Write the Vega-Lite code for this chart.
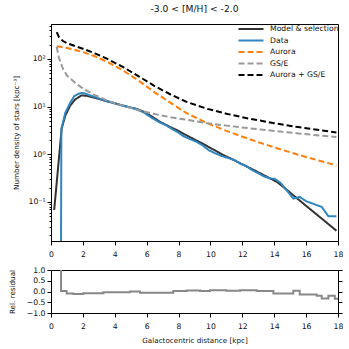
{
  "$schema": "https://vega.github.io/schema/vega-lite/v6.json",
  "padding": {"left": 7, "top": 4, "right": 5, "bottom": 2},
  "spacing": 6,
  "config": {
    "font": "DejaVu Sans",
    "view": {"stroke": "#000", "strokeWidth": 1},
    "axis": {"grid": false, "domainColor": "#000", "tickColor": "#000", "labelColor": "#111", "titleColor": "#111", "labelFontSize": 7.7, "titleFontSize": 7.2, "titleFontWeight": "normal", "tickSize": 4, "labelPadding": 2, "labelFlush": false, "labelOverlap": false},
    "axisX": {"labelPadding": 5}
  },
  "datasets": {
    "curves": [
      {"x": 0.2, "y": 0.068, "s": "Model & selection"},
      {"x": 0.67, "y": 3.5, "s": "Model & selection"},
      {"x": 0.9, "y": 6.5, "s": "Model & selection"},
      {"x": 1.2, "y": 10.5, "s": "Model & selection"},
      {"x": 1.5, "y": 14.0, "s": "Model & selection"},
      {"x": 1.9, "y": 17.2, "s": "Model & selection"},
      {"x": 2.3, "y": 16.8, "s": "Model & selection"},
      {"x": 2.8, "y": 15.2, "s": "Model & selection"},
      {"x": 3.3, "y": 13.6, "s": "Model & selection"},
      {"x": 3.8, "y": 12.3, "s": "Model & selection"},
      {"x": 4.3, "y": 11.0, "s": "Model & selection"},
      {"x": 4.85, "y": 9.8, "s": "Model & selection"},
      {"x": 5.4, "y": 8.9, "s": "Model & selection"},
      {"x": 5.9, "y": 7.6, "s": "Model & selection"},
      {"x": 6.4, "y": 6.0, "s": "Model & selection"},
      {"x": 6.84, "y": 4.8, "s": "Model & selection"},
      {"x": 7.4, "y": 3.85, "s": "Model & selection"},
      {"x": 8.0, "y": 3.1, "s": "Model & selection"},
      {"x": 8.5, "y": 2.5, "s": "Model & selection"},
      {"x": 9.0, "y": 2.05, "s": "Model & selection"},
      {"x": 9.6, "y": 1.62, "s": "Model & selection"},
      {"x": 10.2, "y": 1.25, "s": "Model & selection"},
      {"x": 10.8, "y": 0.97, "s": "Model & selection"},
      {"x": 11.4, "y": 0.78, "s": "Model & selection"},
      {"x": 11.9, "y": 0.64, "s": "Model & selection"},
      {"x": 12.5, "y": 0.51, "s": "Model & selection"},
      {"x": 13.0, "y": 0.42, "s": "Model & selection"},
      {"x": 13.6, "y": 0.33, "s": "Model & selection"},
      {"x": 14.2, "y": 0.26, "s": "Model & selection"},
      {"x": 14.8, "y": 0.178, "s": "Model & selection"},
      {"x": 15.4, "y": 0.122, "s": "Model & selection"},
      {"x": 16.0, "y": 0.083, "s": "Model & selection"},
      {"x": 16.6, "y": 0.057, "s": "Model & selection"},
      {"x": 17.2, "y": 0.039, "s": "Model & selection"},
      {"x": 17.9, "y": 0.025, "s": "Model & selection"},

      {"x": 0.62, "y": 0.001, "s": "Data"},
      {"x": 0.65, "y": 3.4, "s": "Data"},
      {"x": 0.9, "y": 7.5, "s": "Data"},
      {"x": 1.2, "y": 12, "s": "Data"},
      {"x": 1.45, "y": 16.5, "s": "Data"},
      {"x": 1.7, "y": 18.5, "s": "Data"},
      {"x": 1.95, "y": 19.4, "s": "Data"},
      {"x": 2.2, "y": 18.5, "s": "Data"},
      {"x": 2.5, "y": 17, "s": "Data"},
      {"x": 2.8, "y": 15.8, "s": "Data"},
      {"x": 3.2, "y": 14, "s": "Data"},
      {"x": 3.6, "y": 12.8, "s": "Data"},
      {"x": 4.0, "y": 11.8, "s": "Data"},
      {"x": 4.4, "y": 10.7, "s": "Data"},
      {"x": 4.85, "y": 9.9, "s": "Data"},
      {"x": 5.3, "y": 9.0, "s": "Data"},
      {"x": 5.8, "y": 7.6, "s": "Data"},
      {"x": 6.3, "y": 5.9, "s": "Data"},
      {"x": 6.8, "y": 4.7, "s": "Data"},
      {"x": 7.2, "y": 4.1, "s": "Data"},
      {"x": 7.6, "y": 3.4, "s": "Data"},
      {"x": 8.0, "y": 2.85, "s": "Data"},
      {"x": 8.3, "y": 2.4, "s": "Data"},
      {"x": 8.7, "y": 2.1, "s": "Data"},
      {"x": 9.1, "y": 1.85, "s": "Data"},
      {"x": 9.5, "y": 1.55, "s": "Data"},
      {"x": 9.9, "y": 1.22, "s": "Data"},
      {"x": 10.3, "y": 1.05, "s": "Data"},
      {"x": 10.7, "y": 0.92, "s": "Data"},
      {"x": 11.1, "y": 0.84, "s": "Data"},
      {"x": 11.5, "y": 0.76, "s": "Data"},
      {"x": 11.9, "y": 0.63, "s": "Data"},
      {"x": 12.2, "y": 0.58, "s": "Data"},
      {"x": 12.6, "y": 0.47, "s": "Data"},
      {"x": 13.0, "y": 0.40, "s": "Data"},
      {"x": 13.4, "y": 0.34, "s": "Data"},
      {"x": 13.8, "y": 0.31, "s": "Data"},
      {"x": 14.05, "y": 0.305, "s": "Data"},
      {"x": 14.4, "y": 0.25, "s": "Data"},
      {"x": 14.7, "y": 0.19, "s": "Data"},
      {"x": 15.2, "y": 0.118, "s": "Data"},
      {"x": 15.6, "y": 0.128, "s": "Data"},
      {"x": 16.0, "y": 0.104, "s": "Data"},
      {"x": 16.55, "y": 0.089, "s": "Data"},
      {"x": 16.98, "y": 0.079, "s": "Data"},
      {"x": 17.4, "y": 0.05, "s": "Data"},
      {"x": 17.9, "y": 0.05, "s": "Data"},

      {"x": 0.36, "y": 185, "s": "Aurora"},
      {"x": 0.5, "y": 182, "s": "Aurora"},
      {"x": 0.75, "y": 176, "s": "Aurora"},
      {"x": 1.0, "y": 170, "s": "Aurora"},
      {"x": 1.5, "y": 155, "s": "Aurora"},
      {"x": 2.0, "y": 140, "s": "Aurora"},
      {"x": 2.75, "y": 114, "s": "Aurora"},
      {"x": 3.5, "y": 88, "s": "Aurora"},
      {"x": 4.5, "y": 58, "s": "Aurora"},
      {"x": 5.5, "y": 35, "s": "Aurora"},
      {"x": 6.5, "y": 20, "s": "Aurora"},
      {"x": 7.5, "y": 12, "s": "Aurora"},
      {"x": 8.5, "y": 7.3, "s": "Aurora"},
      {"x": 9.8, "y": 4.5, "s": "Aurora"},
      {"x": 11.0, "y": 3.1, "s": "Aurora"},
      {"x": 12.5, "y": 2.05, "s": "Aurora"},
      {"x": 14.0, "y": 1.4, "s": "Aurora"},
      {"x": 15.5, "y": 0.98, "s": "Aurora"},
      {"x": 17.0, "y": 0.71, "s": "Aurora"},
      {"x": 17.9, "y": 0.58, "s": "Aurora"},

      {"x": 0.36, "y": 180, "s": "GS/E"},
      {"x": 0.5, "y": 105, "s": "GS/E"},
      {"x": 0.75, "y": 62, "s": "GS/E"},
      {"x": 1.0, "y": 45, "s": "GS/E"},
      {"x": 1.5, "y": 32, "s": "GS/E"},
      {"x": 2.0, "y": 24, "s": "GS/E"},
      {"x": 2.75, "y": 17.5, "s": "GS/E"},
      {"x": 3.5, "y": 13.5, "s": "GS/E"},
      {"x": 4.5, "y": 10.5, "s": "GS/E"},
      {"x": 5.5, "y": 8.4, "s": "GS/E"},
      {"x": 6.5, "y": 7.0, "s": "GS/E"},
      {"x": 7.5, "y": 6.0, "s": "GS/E"},
      {"x": 8.5, "y": 5.3, "s": "GS/E"},
      {"x": 9.8, "y": 4.5, "s": "GS/E"},
      {"x": 11.0, "y": 4.0, "s": "GS/E"},
      {"x": 12.5, "y": 3.5, "s": "GS/E"},
      {"x": 14.0, "y": 3.1, "s": "GS/E"},
      {"x": 15.5, "y": 2.75, "s": "GS/E"},
      {"x": 17.0, "y": 2.45, "s": "GS/E"},
      {"x": 17.9, "y": 2.3, "s": "GS/E"},

      {"x": 0.36, "y": 365, "s": "Aurora + GS/E"},
      {"x": 0.5, "y": 287, "s": "Aurora + GS/E"},
      {"x": 0.75, "y": 238, "s": "Aurora + GS/E"},
      {"x": 1.0, "y": 215, "s": "Aurora + GS/E"},
      {"x": 1.5, "y": 187, "s": "Aurora + GS/E"},
      {"x": 2.0, "y": 164, "s": "Aurora + GS/E"},
      {"x": 2.75, "y": 131.5, "s": "Aurora + GS/E"},
      {"x": 3.5, "y": 101.5, "s": "Aurora + GS/E"},
      {"x": 4.5, "y": 68.5, "s": "Aurora + GS/E"},
      {"x": 5.5, "y": 43.4, "s": "Aurora + GS/E"},
      {"x": 6.5, "y": 27, "s": "Aurora + GS/E"},
      {"x": 7.5, "y": 18, "s": "Aurora + GS/E"},
      {"x": 8.5, "y": 12.6, "s": "Aurora + GS/E"},
      {"x": 9.8, "y": 9.0, "s": "Aurora + GS/E"},
      {"x": 11.0, "y": 7.1, "s": "Aurora + GS/E"},
      {"x": 12.5, "y": 5.55, "s": "Aurora + GS/E"},
      {"x": 14.0, "y": 4.5, "s": "Aurora + GS/E"},
      {"x": 15.5, "y": 3.73, "s": "Aurora + GS/E"},
      {"x": 17.0, "y": 3.16, "s": "Aurora + GS/E"},
      {"x": 17.9, "y": 2.88, "s": "Aurora + GS/E"}
    ],
    "resid": [
      {"x": 0.45, "r": 5},
      {"x": 0.63, "r": 0.02},
      {"x": 0.98, "r": -0.09},
      {"x": 1.4, "r": -0.12},
      {"x": 2.03, "r": -0.08},
      {"x": 3.28, "r": -0.03},
      {"x": 4.96, "r": 0.0},
      {"x": 5.58, "r": -0.06},
      {"x": 7.67, "r": 0.02},
      {"x": 8.51, "r": 0.05},
      {"x": 9.35, "r": 0.02},
      {"x": 9.97, "r": 0.06},
      {"x": 11.0, "r": 0.04},
      {"x": 11.86, "r": 0.06},
      {"x": 12.9, "r": 0.02},
      {"x": 13.95, "r": -0.09},
      {"x": 15.2, "r": 0.03},
      {"x": 15.6, "r": -0.14},
      {"x": 16.67, "r": -0.2},
      {"x": 16.98, "r": -0.33},
      {"x": 17.4, "r": -0.2},
      {"x": 17.8, "r": -0.34},
      {"x": 18.0, "r": -0.34}
    ]
  },
  "vconcat": [
    {
      "width": 287,
      "height": 217,
      "title": {"text": "-3.0 < [M/H] < -2.0", "fontSize": 9.2, "fontWeight": "normal", "color": "#111", "anchor": "middle", "frame": "group", "offset": 7},
      "data": {"name": "curves"},
      "mark": {"type": "line", "strokeWidth": 2, "clip": true},
      "encoding": {
        "x": {"field": "x", "type": "quantitative", "scale": {"domain": [0, 18], "nice": false, "zero": false},
          "axis": {"values": [0, 2, 4, 6, 8, 10, 12, 14, 16, 18], "title": null}},
        "y": {"field": "y", "type": "quantitative",
          "scale": {"type": "log", "domain": [0.0152, 542], "nice": false},
          "axis": {
            "title": "Number density of stars [kpc⁻³]",
            "titlePadding": 8,
            "values": [0.02, 0.03, 0.04, 0.05, 0.06, 0.07, 0.08, 0.09, 0.1, 0.2, 0.3, 0.4, 0.5, 0.6, 0.7, 0.8, 0.9, 1, 2, 3, 4, 5, 6, 7, 8, 9, 10, 20, 30, 40, 50, 60, 70, 80, 90, 100, 200, 300, 400, 500],
            "labelExpr": "abs(log(datum.value)/LN10 - round(log(datum.value)/LN10)) < 0.01 ? (round(log(datum.value)/LN10) == -1 ? '10⁻¹' : round(log(datum.value)/LN10) == 0 ? '10⁰' : round(log(datum.value)/LN10) == 1 ? '10¹' : '10²') : ''",
            "tickSize": {"condition": {"test": "abs(log(datum.value)/LN10 - round(log(datum.value)/LN10)) < 0.01", "value": 4}, "value": 2}
          }},
        "color": {"field": "s", "type": "nominal",
          "scale": {"domain": ["Model & selection", "Data", "Aurora", "GS/E", "Aurora + GS/E"], "range": ["#333333", "#2f86c0", "#ff7f0e", "#999999", "#000000"]},
          "legend": {"title": null, "orient": "none", "legendX": 194, "legendY": -1, "symbolType": "M-2.5,0H2.5", "symbolSize": 100, "symbolStrokeWidth": 2, "labelFontSize": 7.7, "labelColor": "#111", "rowPadding": 1.5, "labelOffset": 13}},
        "strokeDash": {"field": "s", "type": "nominal",
          "scale": {"domain": ["Model & selection", "Data", "Aurora", "GS/E", "Aurora + GS/E"], "range": [[1, 0], [1, 0], [6, 3], [6, 3], [6, 3]]},
          "legend": {"title": null, "orient": "none", "legendX": 194, "legendY": -1, "symbolType": "M-2.5,0H2.5", "symbolSize": 100, "symbolStrokeWidth": 2, "labelFontSize": 7.7, "labelColor": "#111", "rowPadding": 1.5, "labelOffset": 13}}
      }
    },
    {
      "width": 287,
      "height": 43,
      "layer": [
        {
          "mark": {"type": "rule", "color": "#333333", "strokeWidth": 1},
          "encoding": {
            "y": {"datum": 0, "type": "quantitative", "scale": {"domain": [-1, 1], "nice": false},
              "axis": {"orient": "right", "values": [-1, -0.5, 0, 0.5, 1], "labels": false, "title": null, "tickSize": 4}}
          }
        },
        {
          "data": {"name": "resid"},
          "mark": {"type": "line", "interpolate": "step-after", "color": "#888888", "strokeWidth": 2, "clip": true},
          "encoding": {
            "x": {"field": "x", "type": "quantitative", "scale": {"domain": [0, 18], "nice": false, "zero": false},
              "axis": {"values": [0, 2, 4, 6, 8, 10, 12, 14, 16, 18], "title": "Galactocentric distance [kpc]", "titlePadding": 7}},
            "y": {"field": "r", "type": "quantitative", "scale": {"domain": [-1, 1], "nice": false},
              "axis": {"orient": "left", "values": [-1, -0.5, 0, 0.5, 1], "format": ".1f", "title": "Rel. residual", "titlePadding": 10}}
          }
        }
      ]
    }
  ]
}
